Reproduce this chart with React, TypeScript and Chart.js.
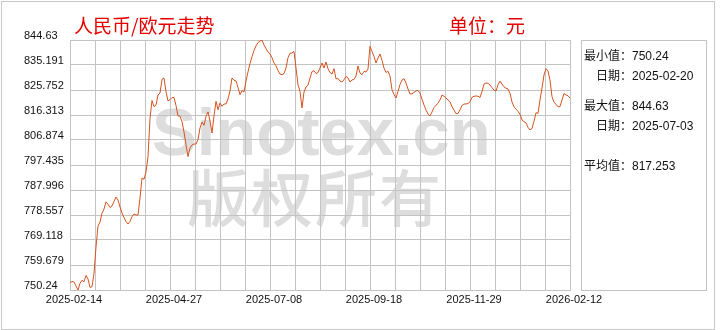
import { useEffect, useRef } from 'react';
import { Chart, registerables } from 'chart.js';

Chart.register(...registerables);

// CNY per 100 EUR (evenly spaced samples)
const rates: number[] = [
  753.00, 753.45, 753.26, 751.75, 750.24, 752.77, 753.90, 753.37, 755.72, 754.39,
  751.20, 751.50, 756.55, 766.48, 774.40, 775.92, 779.20, 780.82, 783.50, 782.60,
  781.39, 781.96, 783.66, 785.35, 784.22, 781.58, 779.31, 777.61, 776.10, 775.16,
  776.10, 777.99, 778.93, 778.56, 778.56, 784.97, 792.53, 792.04, 794.79, 800.57,
  815.07, 821.79, 819.45, 820.09, 823.86, 824.62, 829.79, 830.28, 825.11, 821.60,
  822.09, 822.88, 822.92, 819.90, 815.94, 815.86, 813.86, 809.89, 805.10, 800.60,
  803.85, 804.99, 805.36, 805.36, 806.99, 811.40, 813.67, 812.42, 815.82, 817.45,
  814.05, 809.52, 815.94, 821.49, 818.31, 820.84, 819.60, 820.47, 820.47, 822.35,
  825.37, 830.28, 829.45, 829.15, 826.70, 823.98, 825.56, 825.00, 829.15, 832.62,
  835.76, 838.32, 840.67, 842.40, 843.69, 844.25, 844.63, 842.74, 841.42, 840.10,
  839.42, 837.95, 835.95, 834.89, 833.04, 831.76, 831.53, 831.94, 834.06, 837.95,
  839.61, 839.72, 840.29, 834.06, 827.72, 825.26, 818.96, 825.00, 826.88, 827.53,
  830.28, 832.74, 833.04, 831.98, 832.36, 834.06, 835.95, 834.06, 836.32, 833.76,
  832.36, 831.79, 833.79, 829.94, 830.09, 829.15, 828.77, 829.64, 830.92, 830.28,
  828.77, 829.57, 829.72, 831.04, 834.81, 832.17, 831.53, 832.81, 832.55, 833.68,
  842.25, 840.29, 838.44, 835.95, 837.83, 839.34, 836.89, 834.06, 832.36, 832.81,
  831.04, 825.87, 824.02, 822.73, 825.19, 827.83, 829.53, 830.02, 828.39, 826.13,
  824.24, 824.32, 824.81, 825.45, 825.56, 824.62, 822.24, 820.09, 818.20, 816.69,
  815.94, 817.45, 819.14, 820.01, 820.73, 821.98, 823.86, 823.41, 822.73, 822.01,
  821.33, 819.45, 818.20, 816.80, 816.88, 818.28, 819.90, 820.47, 820.47, 820.65,
  821.33, 823.00, 823.37, 823.49, 823.41, 822.92, 825.11, 828.02, 828.39, 828.28,
  827.64, 826.66, 825.71, 825.37, 827.75, 829.15, 828.02, 826.96, 826.43, 826.13,
  824.51, 821.22, 819.41, 818.54, 817.67, 816.58, 814.43, 813.78, 813.41, 811.63,
  810.65, 811.25, 813.97, 817.18, 816.92, 821.98, 826.51, 831.42, 833.83, 832.93,
  829.53, 823.22, 821.11, 820.39, 819.41, 819.48, 821.98, 824.43, 823.86, 823.56,
  822.73,
];

const xTickLabels: string[] = ['2025-02-14', '2025-04-27', '2025-07-08', '2025-09-18', '2025-11-29', '2026-02-12'];
const yTickLabels: string[] = ['844.63', '835.191', '825.752', '816.313', '806.874', '797.435', '787.996', '778.557', '769.118', '759.679', '750.24'];

const titleText = '人民币/欧元走势';
const unitText = '单位：元';
const minValue = '750.24';
const minDate = '2025-02-20';
const maxValue = '844.63';
const maxDate = '2025-07-03';
const avgValue = '817.253';

const GRID = '#c3c3c3';
const LINE = '#d4531f';

export default function App() {
  const canvasRef = useRef<HTMLCanvasElement | null>(null);

  useEffect(() => {
    if (!canvasRef.current) return;
    const yAsc = [...yTickLabels].reverse();
    const yVals = yAsc.map(Number);
    const lastIdx = rates.length - 1;
    const xCols = 20;
    const perLabel = xCols / (xTickLabels.length - 1);

    const watermark = {
      id: 'watermark',
      beforeDraw(chart: any) {
        const ctx = chart.ctx;
        ctx.save();
        ctx.fillStyle = '#dddddd';
        ctx.textBaseline = 'alphabetic';
        ctx.textAlign = 'left';
        ctx.font = 'bold 67px "Liberation Sans", Arial, sans-serif';
        ctx.fillText('Sinotex.cn', 152, 155);
        ctx.font = '500 62px "Noto Sans CJK SC", sans-serif';
        (ctx as any).letterSpacing = '2px';
        ctx.fillText('版权所有', 187, 222);
        ctx.restore();
      },
    };

    const chart = new Chart(canvasRef.current, {
      type: 'line',
      data: {
        labels: rates.map((_, i) => i),
        datasets: [
          {
            data: rates,
            borderColor: LINE,
            borderWidth: 1,
            pointRadius: 0,
            tension: 0,
            fill: false,
          },
        ],
      },
      options: {
        animation: false,
        responsive: false,
        devicePixelRatio: 1,
        layout: { padding: { left: 24, top: 40, right: 150, bottom: 20 } },
        plugins: {
          legend: { display: false },
          tooltip: { enabled: false },
          title: { display: false },
        },
        scales: {
          x: {
            type: 'linear',
            min: 0,
            max: lastIdx,
            afterBuildTicks: (s: any) => {
              s.ticks = Array.from({ length: xCols + 1 }, (_, k) => ({ value: (k * lastIdx) / xCols }));
            },
            afterFit: (s: any) => {
              s.height = 20;
            },
            grid: { color: GRID, lineWidth: 1, drawTicks: false },
            border: { display: true, color: GRID },
            ticks: {
              autoSkip: false,
              maxRotation: 0,
              minRotation: 0,
              padding: 3,
              labelOffset: 4,
              color: '#111',
              font: { family: '"Liberation Sans", Arial, sans-serif', size: 11 },
              callback: (_v: any, i: number) => (i % perLabel === 0 ? xTickLabels[i / perLabel] : ''),
            },
          },
          y: {
            type: 'linear',
            min: yVals[0],
            max: yVals[yVals.length - 1],
            afterBuildTicks: (s: any) => {
              s.ticks = yVals.map((v) => ({ value: v }));
            },
            afterFit: (s: any) => {
              s.width = 46;
            },
            grid: { color: GRID, lineWidth: 1, drawTicks: false },
            border: { display: true, color: GRID },
            ticks: {
              crossAlign: 'far',
              labelOffset: -4,
              color: '#111',
              font: { family: '"Liberation Sans", Arial, sans-serif', size: 11 },
              callback: (_v: any, i: number) => yAsc[i],
            },
          },
        },
      },
      plugins: [watermark],
    } as any);

    return () => chart.destroy();
  }, []);

  const statFont: React.CSSProperties = {
    position: 'absolute',
    fontFamily: '"Liberation Sans", "Noto Sans CJK SC", sans-serif',
    fontSize: 12,
    lineHeight: '12px',
    color: '#111',
    whiteSpace: 'nowrap',
  };
  const titleFont: React.CSSProperties = {
    position: 'absolute',
    top: 15,
    fontFamily: '"Noto Sans CJK SC", sans-serif',
    fontSize: 19,
    lineHeight: '19px',
    color: '#e60000',
    whiteSpace: 'nowrap',
  };

  return (
    <div style={{ position: 'absolute', left: 0, top: 0, width: 720, height: 330, background: '#fff', overflow: 'hidden' }}>
      <canvas ref={canvasRef} width={720} height={330} style={{ position: 'absolute', left: 0, top: 0, display: 'block' }} />
      <div style={{ position: 'absolute', left: 1, top: 1, width: 714, height: 329, border: '1px solid #c8c8c8', boxSizing: 'border-box', pointerEvents: 'none' }} />
      <div style={{ ...titleFont, left: 74 }}>{titleText}</div>
      <div style={{ ...titleFont, left: 449 }}>{unitText}</div>
      <div style={{ position: 'absolute', left: 581, top: 40, width: 126, height: 251, border: '1px solid ' + GRID, boxSizing: 'border-box' }} />
      <div style={{ ...statFont, left: 584, top: 50 }}>最小值：{minValue}</div>
      <div style={{ ...statFont, left: 596, top: 70 }}>日期：{minDate}</div>
      <div style={{ ...statFont, left: 584, top: 100 }}>最大值：{maxValue}</div>
      <div style={{ ...statFont, left: 596, top: 120 }}>日期：{maxDate}</div>
      <div style={{ ...statFont, left: 584, top: 160 }}>平均值：{avgValue}</div>
    </div>
  );
}
